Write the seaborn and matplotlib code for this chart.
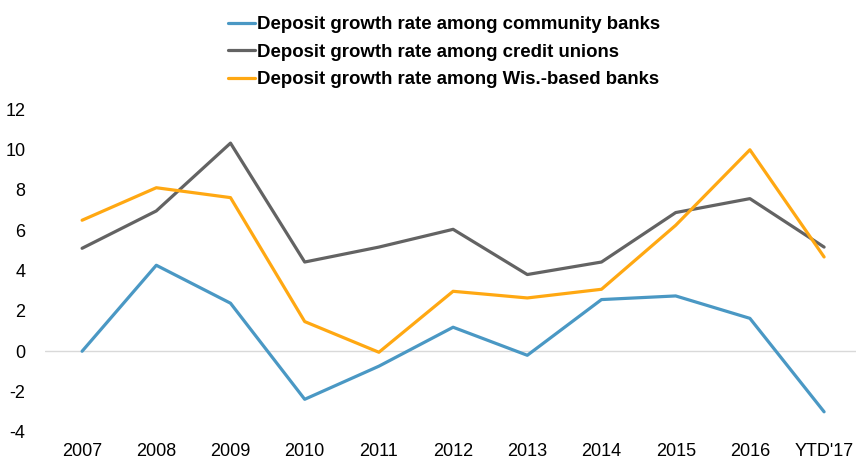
import matplotlib
matplotlib.use("Agg")
import matplotlib.pyplot as plt
import seaborn as sns
import pandas as pd

years = ["2007", "2008", "2009", "2010", "2011", "2012", "2013", "2014", "2015", "2016", "YTD'17"]
community_banks = [0.0, 4.26, 2.38, -2.38, -0.74, 1.19, -0.2, 2.56, 2.74, 1.63, -3.0]
credit_unions = [5.1, 6.95, 10.31, 4.42, 5.16, 6.04, 3.8, 4.42, 6.87, 7.56, 5.16]
wis_banks = [6.49, 8.1, 7.61, 1.47, -0.05, 2.97, 2.64, 3.07, 6.24, 9.98, 4.67]

series_names = [
    "Deposit growth rate among community banks",
    "Deposit growth rate among credit unions",
    "Deposit growth rate among Wis.-based banks",
]
series_colors = ["#4A98C4", "#636363", "#FFA812"]

frames = []
for name, vals in zip(series_names, [community_banks, credit_unions, wis_banks]):
    frames.append(pd.DataFrame({"year": years, "rate": vals, "series": name}))
df = pd.concat(frames, ignore_index=True)

sns.set_theme(style="white")
plt.rcParams["font.family"] = ["Liberation Sans", "DejaVu Sans"]
plt.rcParams["axes.unicode_minus"] = False
plt.rcParams["text.color"] = "black"

fig = plt.figure(figsize=(8.56, 4.63), dpi=100)
ax = fig.add_axes([45 / 856, 31 / 463, 811 / 856, 323 / 463])

ax.axhline(0, color="#D9D9D9", lw=1.0, zorder=1)
sns.lineplot(data=df, x="year", y="rate", hue="series", hue_order=series_names,
             palette=series_colors, linewidth=2.3, sort=False, ax=ax, zorder=3)

ax.set_xlim(-0.5, 10.43)
ax.set_ylim(-4, 12)
ax.set_yticks(range(-4, 13, 2))
ax.set_xlabel("")
ax.set_ylabel("")
for s in ax.spines.values():
    s.set_visible(False)
ax.tick_params(axis="both", length=0, labelsize=13, colors="black")
ax.tick_params(axis="y", pad=14)
ax.tick_params(axis="x", pad=8)

handles, labels = ax.get_legend_handles_labels()
ax.legend_.remove()
fig.legend(handles, labels, loc="upper left", bbox_to_anchor=(221 / 856, 1 - 9 / 463),
           frameon=False, prop={"weight": "bold", "size": 13.4}, labelcolor="black",
           handlelength=1.45, handletextpad=0.1, labelspacing=0.56, borderaxespad=0)

fig.savefig("out.png", dpi=100)
